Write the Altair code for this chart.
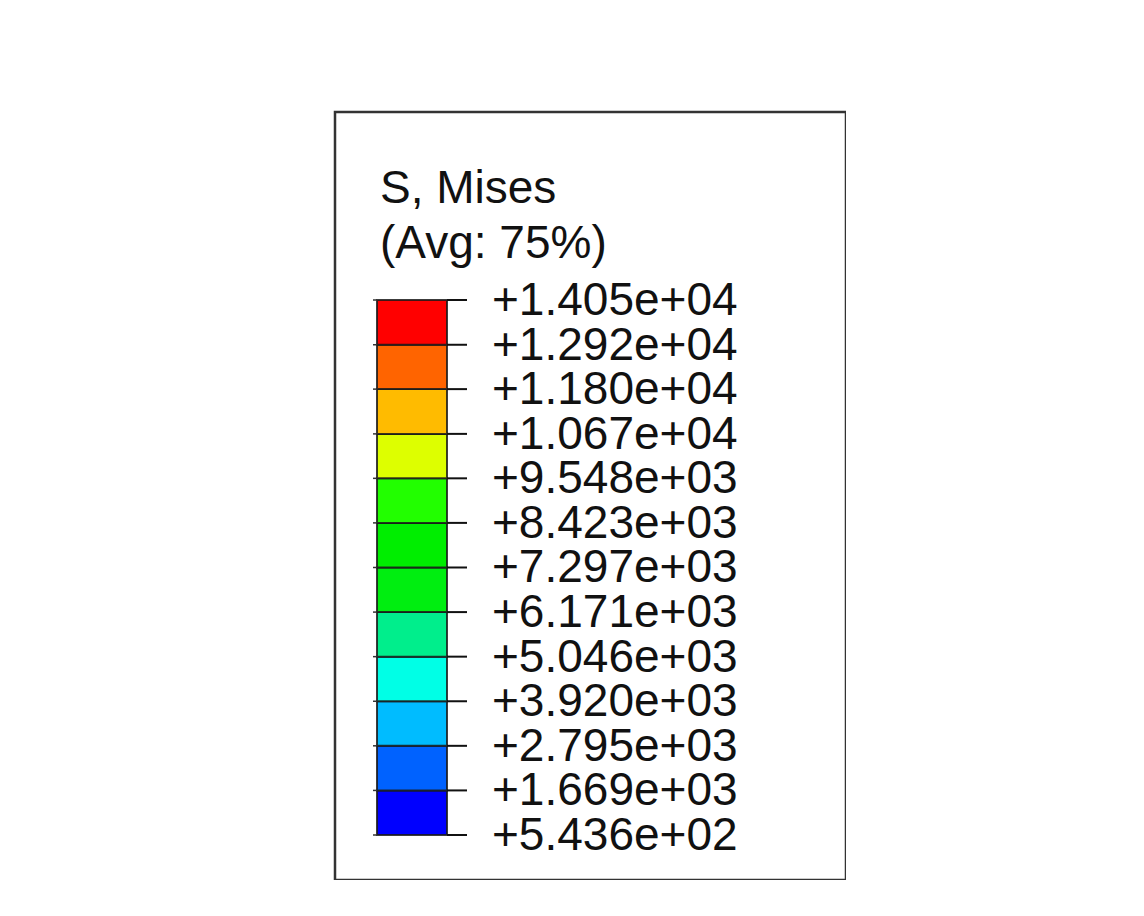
import altair as alt
import pandas as pd

# Contour legend values (S, Mises, Avg: 75%)
levels = [543.6, 1669, 2795, 3920, 5046, 6171, 7297, 8423, 9548, 10670, 11800, 12920, 14050]
tick_labels = ["+5.436e+02", "+1.669e+03", "+2.795e+03", "+3.920e+03", "+5.046e+03",
               "+6.171e+03", "+7.297e+03", "+8.423e+03", "+9.548e+03", "+1.067e+04",
               "+1.180e+04", "+1.292e+04", "+1.405e+04"]
band_colors = ["#0000ff", "#0062ff", "#00bcff", "#00ffe6", "#00ee8c", "#00ee10",
               "#00ee00", "#22ff00", "#ddff00", "#ffbb00", "#ff6400", "#ff0000"]
title_lines = ["S, Mises", "(Avg: 75%)"]

bands = pd.DataFrame({
    "lo": levels[:-1],
    "hi": levels[1:],
    "color": band_colors,
})
ticks = pd.DataFrame({"v": levels, "label": tick_labels})
titles = pd.DataFrame({"line": title_lines, "row": [0, 1]})

FONT = "Liberation Sans"
yscale = alt.Scale(domain=[levels[0], levels[-1]], range=[723, 188])
yenc = alt.Y("v:Q", scale=yscale, axis=None)

rects = alt.Chart(bands).mark_rect(stroke="#1a1a1a", strokeWidth=2, strokeOpacity=0.85).encode(
    x=alt.value(42), x2=alt.value(112),
    y=alt.Y("lo:Q", scale=yscale, axis=None), y2="hi:Q",
    fill=alt.Fill("color:N", scale=None),
)

tick_right = alt.Chart(ticks).mark_rule(color="#111", strokeWidth=2).encode(
    x=alt.value(112), x2=alt.value(132), y=yenc,
)
tick_left = alt.Chart(ticks).mark_rule(color="#333", strokeWidth=1.5).encode(
    x=alt.value(38), x2=alt.value(42), y=yenc,
)

labels = alt.Chart(ticks).mark_text(
    align="left", baseline="alphabetic", dy=15, font=FONT, fontSize=46, color="#111"
).encode(
    x=alt.value(157), y=yenc, text="label:N",
)

title_text = alt.Chart(titles).mark_text(
    align="left", baseline="alphabetic", font=FONT, fontSize=46, color="#111"
).encode(
    x=alt.value(45),
    y=alt.Y("row:Q", scale=alt.Scale(domain=[0, 1], range=[91, 146]), axis=None),
    text="line:N",
)

chart = alt.layer(rects, tick_right, tick_left, labels, title_text).resolve_scale(
    y="independent"
).properties(
    width=511, height=768,
    padding={"left": 327, "top": 104, "right": 0, "bottom": 0},
    autosize=alt.AutoSizeParams(type="none"),
).configure_view(
    stroke="#333333", strokeWidth=2.5
)

chart.save("out.html", embed_options={"renderer": "svg", "actions": False})
